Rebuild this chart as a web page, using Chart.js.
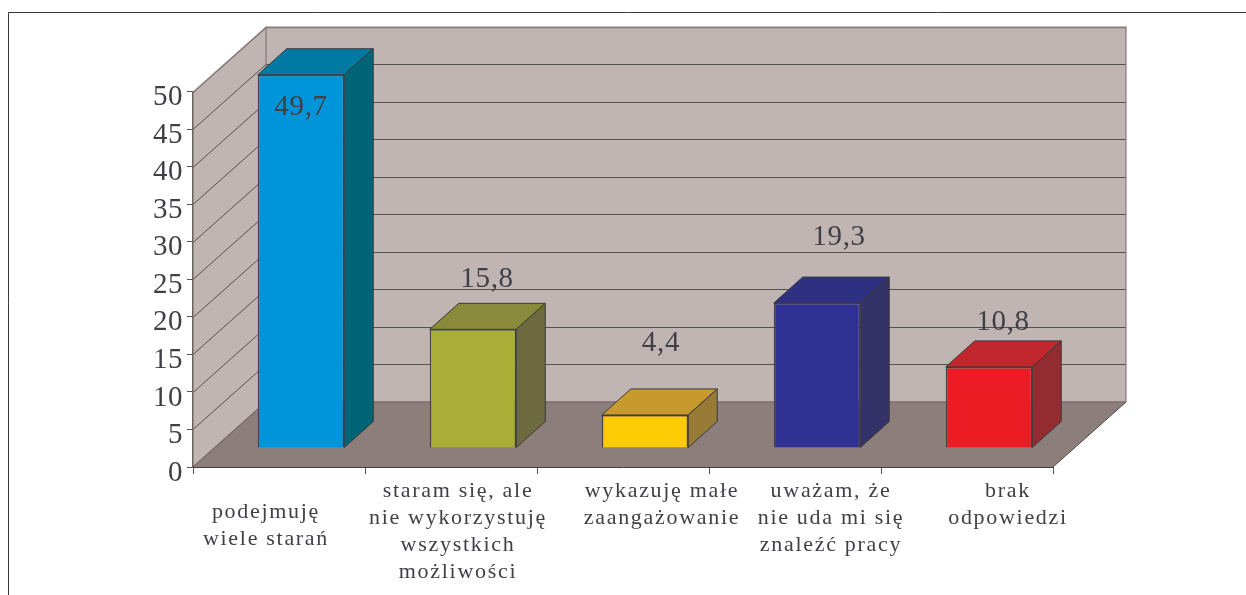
<!DOCTYPE html>
<html>
<head>
<meta charset="utf-8">
<style>html,body{margin:0;padding:0;background:#fff}canvas{display:block}</style>
<script src="https://cdn.jsdelivr.net/npm/chart.js@4"></script>
</head>
<body>
<canvas id="c" width="1246" height="595"></canvas>
<script>
const categories = [
  ['podejmuję','wiele starań'],
  ['staram się, ale','nie wykorzystuję','wszystkich','możliwości'],
  ['wykazuję małe','zaangażowanie'],
  ['uważam, że','nie uda mi się','znaleźć pracy'],
  ['brak','odpowiedzi']
];
const values = [49.7, 15.8, 4.4, 19.3, 10.8];
const frontColors = ['#0095da','#a8ae36','#ffcb05','#2e3192','#ed1c24'];
const topColors   = ['#007aa3','#8a8a3c','#c89a2e','#2e3182','#c1272d'];
const sideColors  = ['#006477','#6c6a3e','#977a35','#33336a','#922c31'];
const tickDx = [-13, 7, 39, 36, 41];
const tickDy = [21, 0, 0, 0, 0];
const valueDx = [0, 14, 16, 22, 14];
const valueDy = [33, -50, -72, -66, -45];

const WALL = {dx: 73, dy: -65};
const BAR  = {dx: 22, dy: -19, depthX: 29, depthY: -26};
const TEXT = '#3f3f45';

function poly(ctx, pts, fill, stroke, lw){
  ctx.beginPath();
  pts.forEach((p,i)=> i? ctx.lineTo(p[0],p[1]) : ctx.moveTo(p[0],p[1]));
  ctx.closePath();
  if(fill){ctx.fillStyle=fill;ctx.fill();}
  if(stroke){ctx.strokeStyle=stroke;ctx.lineWidth=lw||1;ctx.stroke();}
}
function spaced(scale, spacing){
  if(scale.__wrapped) return;
  const orig = scale.drawLabels;
  scale.drawLabels = function(a){
    const c=this.ctx; c.save(); c.letterSpacing=spacing; orig.call(this,a); c.restore();
  };
  scale.__wrapped = true;
}
const done = new WeakSet();
const scene = {
  id:'scene',
  beforeDraw(chart){
    const {ctx, chartArea:a, scales:{x,y}} = chart;
    spaced(x,'1.7px'); spaced(y,'0.5px');
    x.getLabelItems().forEach((it,i)=>{
      if(done.has(it)) return;
      done.add(it);
      it.options.translation = [it.options.translation[0]+tickDx[i], it.options.translation[1]+tickDy[i]];
    });
    ctx.save();
    // outer frame
    ctx.strokeStyle='#3a3a3a'; ctx.lineWidth=1;
    ctx.beginPath(); ctx.moveTo(8.5,595); ctx.lineTo(8.5,12.5); ctx.lineTo(1246,12.5); ctx.stroke();
    const L=a.left,R=a.right,B=a.bottom,T=a.top,dx=WALL.dx,dy=WALL.dy;
    // walls and floor
    poly(ctx,[[L,B],[L,T],[L+dx,T+dy],[L+dx,B+dy]],'#c0b5b2');
    poly(ctx,[[L+dx,T+dy],[R+dx,T+dy],[R+dx,B+dy],[L+dx,B+dy]],'#c0b5b2');
    poly(ctx,[[L,B],[L+dx,B+dy],[R+dx,B+dy],[R,B]],'#8c7e7a');
    // grid lines
    y.ticks.forEach(t=>{
      if(t.value===0) return;
      const py=Math.round(y.getPixelForValue(t.value))+0.5;
      ctx.strokeStyle = t.value===50 ? '#85797a' : '#55504f';
      ctx.lineWidth = t.value===50 ? 1.5 : 1;
      ctx.beginPath(); ctx.moveTo(L,py); ctx.lineTo(L+dx,py+dy); ctx.lineTo(R+dx,py+dy); ctx.stroke();
    });
    ctx.strokeStyle='#85797a'; ctx.lineWidth=1.2;
    ctx.beginPath(); ctx.moveTo(L+dx,T+dy); ctx.lineTo(L+dx,B+dy); ctx.stroke();
    ctx.beginPath(); ctx.moveTo(R+dx,T+dy); ctx.lineTo(R+dx,B+dy); ctx.stroke();
    ctx.strokeStyle='#7a6e6c'; ctx.lineWidth=1.5;
    ctx.beginPath(); ctx.moveTo(L,B); ctx.lineTo(L+dx,B+dy); ctx.lineTo(R+dx,B+dy); ctx.stroke();
    ctx.strokeStyle='#4a4646'; ctx.lineWidth=1;
    ctx.beginPath(); ctx.moveTo(R+dx,B+dy); ctx.lineTo(R,B); ctx.stroke();
    ctx.restore();
  },
  beforeDatasetsDraw(chart){
    chart.ctx.save();
    chart.ctx.translate(BAR.dx,BAR.dy);
  },
  afterDatasetsDraw(chart){
    const {ctx} = chart;
    const meta = chart.getDatasetMeta(0);
    meta.data.forEach((bar,i)=>{
      const p = bar.getProps(['x','y','base','width'],true);
      const l=p.x-p.width/2, r=p.x+p.width/2, t=p.y, b=p.base, ax=BAR.depthX, ay=BAR.depthY;
      poly(ctx,[[l,t],[l+ax,t+ay],[r+ax,t+ay],[r,t]],topColors[i],'#3a3a3a',1);
      poly(ctx,[[r,t],[r+ax,t+ay],[r+ax,b+ay],[r,b]],sideColors[i],'#3a3a3a',1);
    });
    ctx.restore();
    ctx.save();
    ctx.font='29px "Liberation Serif"';
    ctx.letterSpacing='0.7px';
    ctx.fillStyle=TEXT; ctx.textAlign='center'; ctx.textBaseline='middle';
    meta.data.forEach((bar,i)=>{
      const p = bar.getProps(['x','y'],true);
      ctx.fillText(String(values[i]).replace('.',','), p.x+BAR.dx+valueDx[i], p.y+BAR.dy+valueDy[i]);
    });
    ctx.restore();
  }
};

new Chart(document.getElementById('c'),{
  type:'bar',
  data:{labels:categories,datasets:[{
    data:values,
    backgroundColor:frontColors,
    borderColor:'#45454a',
    borderWidth:1.5,
    barPercentage:0.503,
    categoryPercentage:1
  }]},
  options:{
    responsive:false,
    animation:false,
    layout:{padding:{left:0,top:91.5,right:193,bottom:0}},
    plugins:{legend:{display:false},tooltip:{enabled:false},title:{display:false}},
    scales:{
      x:{
        afterFit(s){s.height=128;},
        grid:{display:true,drawOnChartArea:false,drawTicks:true,tickLength:7,color:'#555'},
        border:{display:true,color:'#3f3f3f',width:1},
        ticks:{autoSkip:false,maxRotation:0,minRotation:0,padding:4,color:TEXT,
          font:{family:'"Liberation Serif"',size:22,lineHeight:'27px'}}
      },
      y:{
        min:0,max:50,
        afterFit(s){s.width=193;},
        grid:{display:true,drawOnChartArea:false,drawTicks:true,tickLength:6,color:'#555'},
        border:{display:true,color:'#6a6362',width:1.5},
        ticks:{stepSize:5,autoSkip:false,padding:4,labelOffset:6,color:TEXT,
          font:{family:'"Liberation Serif"',size:29}}
      }
    }
  },
  plugins:[scene]
});
</script>
</body>
</html>
